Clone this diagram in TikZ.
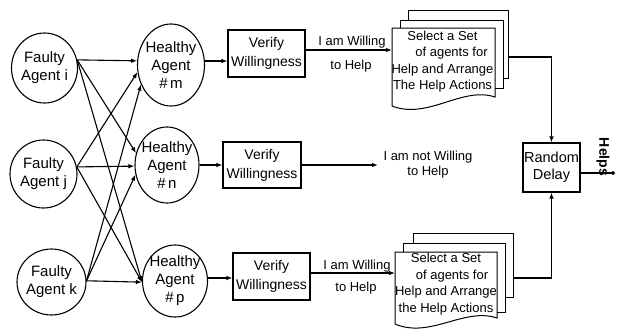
\documentclass[tikz,border=0pt]{standalone}
\usepackage{fontspec}
\setmainfont{Liberation Sans}
\usetikzlibrary{arrows.meta,shapes.geometric}
\begin{document}
\begin{tikzpicture}[x=1pt,y=-1pt,
  line width=1.1pt,
  arr/.style={-{Latex[length=6pt,width=4.5pt]}},
  agent/.style={draw,ellipse,inner sep=0pt},
  agtxt/.style={align=center,inner sep=0pt,font=\fontsize{15}{18}\selectfont},
  vbox/.style={draw,rectangle,inner sep=0pt,align=center,minimum width=77pt,minimum height=47pt,font=\fontsize{14}{19}\selectfont},
  lbl/.style={inner sep=0pt,font=\fontsize{13}{15}\selectfont},
  doctext/.style={inner sep=0pt,align=center,font=\fontsize{13}{16.5}\selectfont},
  docsheet/.style={draw,fill=white,line width=1pt}]
\useasboundingbox (0,0) rectangle (618,335);

% faulty agents
\node[agent,minimum width=66pt,minimum height=70pt,
  label={[agtxt]center:{Faulty\\Agent i}}] (fi) at (44.5,68) {};
\node[agent,minimum width=67pt,minimum height=68pt,
  label={[agtxt]center:{Faulty\\Agent j}}] (fj) at (43.5,174) {};
\node[agent,minimum width=69pt,minimum height=66pt,
  label={[agtxt]center:{Faulty\\Agent k}}] (fk) at (51.5,282) {};

% healthy agents
\node[agent,minimum width=67pt,minimum height=82pt,
  label={[agtxt]center:{Healthy\\Agent\\\#\,m}}] (hm) at (171,65) {};
\node[agent,minimum width=64pt,minimum height=76pt,
  label={[agtxt]center:{Healthy\\Agent\\\#\,n}}] (hn) at (167,165) {};
\node[agent,minimum width=65pt,minimum height=72pt,
  label={[agtxt]center:{Healthy\\Agent\\\#\,p}}] (hp) at (175,281) {};

% crossing arrows
\draw[arr] (fi.14) -- (hm.173);
\draw[arr] (fi.14) -- (hn.159);
\draw[arr] (fi.14) -- (hp.182);
\draw[arr] (fj.12) -- (hm.192);
\draw[arr] (fj.12) -- (hn.182);
\draw[arr] (fj.12) -- (hp.182);
\draw[arr] (fk.2) -- (hm.213);
\draw[arr] (fk.2) -- (hn.197);
\draw[arr] (fk.2) -- (hp.182);

% verify boxes
\node[vbox] (vt) at (266.5,53.5) {Verify\\Willingness};
\node[vbox,minimum width=78pt,minimum height=46pt] (vm) at (262,165) {Verify\\Willingness};
\node[vbox] (vb) at (271.5,276.5) {Verify\\Willingness};

\coordinate (hmo) at (205,61);
\coordinate (hpo) at (210,278);
\draw[arr] (hm.east |- hmo) -- (vt.west |- hmo);
\draw[arr] (hn.east |- vm.west) -- (vm.west);
\draw[arr] (hp.east |- hpo) -- (vb.west |- hpo);

% top document stack
\draw[docsheet] (408,10) rectangle (508,78);
\draw[docsheet] (400,20) rectangle (503,88);
\draw[docsheet] (392,28) -- (495,28) -- (495,97) .. controls (462,86) and (428,120) .. (392,106) -- cycle;
\node[doctext] (dtt) at (442.5,61.5) {Select a Set\\\hspace*{18pt}of agents for\\Help and Arrange\\The Help Actions};

% bottom document stack
\draw[docsheet] (413,233) rectangle (513,297);
\draw[docsheet] (403,243) rectangle (505,312);
\draw[docsheet] (395,252) -- (497,252) -- (497,318) .. controls (464,307) and (430,339) .. (395,324) -- cycle;
\node[doctext] (dbt) at (446,284) {Select a Set\\\hspace*{12pt}of agents for\\Help and Arrange\\the Help Actions};

% willing connectors
\coordinate (dtin) at (392,50);
\coordinate (dbin) at (395,273);
\draw[arr] (vt.east |- dtin) -- (dtin);
\draw[arr] (vb.east |- dbin) -- (dbin);
\node[lbl] (wt1) at (352,42) {I am Willing};
\node[lbl] (wt2) at (351,66) {to Help};
\node[lbl] (wb1) at (357,266) {I am Willing};
\node[lbl] (wb2) at (356,288) {to Help};

% not willing
\node[lbl,align=center,anchor=west] (nw) at (383,165) {I am not Willing\\to Help};
\draw[arr] (vm.east) -- ([xshift=-5pt]nw.west);

% random delay
\node[draw,rectangle,inner sep=0pt,minimum width=57pt,minimum height=49pt,align=center,
  font=\fontsize{14.5}{17}\selectfont] (rd) at (551.5,167.5) {Random\\Delay};
\coordinate (dto) at (508,57);
\coordinate (dbo) at (513,278);
\draw[arr] (dto) -| (rd.north);
\draw[arr] (dbo) -| (rd.south);

\coordinate (hout) at (615,173);
\draw[-{Circle[length=4pt]}] (rd.east |- hout) -- (hout);
\node[inner sep=0pt,rotate=-90,font=\fontsize{14}{16}\selectfont\bfseries] (helps) at (603,157) {Helps};
\end{tikzpicture}
\end{document}
